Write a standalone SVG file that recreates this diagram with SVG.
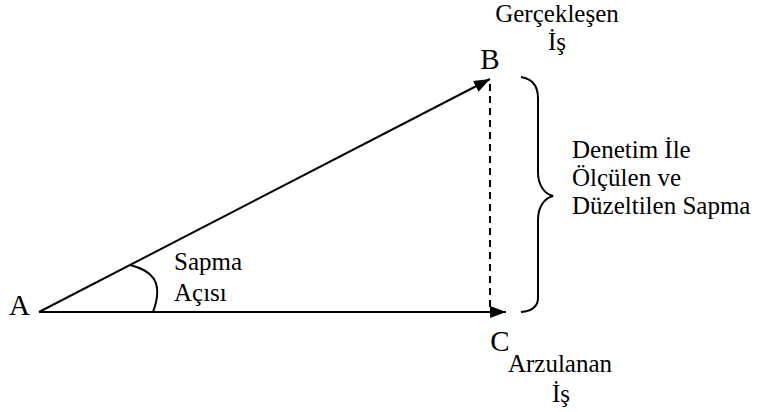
<svg xmlns="http://www.w3.org/2000/svg" width="760" height="412" viewBox="0 0 760 412">
<style>
.t{font-family:'Liberation Serif','Times New Roman','DejaVu Serif',serif;fill:#000;font-size:25px}
.pt{font-size:29px}
.ln{stroke:#000;stroke-width:2;fill:none}
</style>
<defs>
<marker id="ah" viewBox="0 0 16 12" refX="16" refY="6" markerWidth="16" markerHeight="12" markerUnits="userSpaceOnUse" orient="auto">
<path d="M0,0 L16,6 L0,12 Z" fill="#000"/>
</marker>
</defs>
<rect width="760" height="412" fill="#fff"/>
<g id="connectors">
<line class="ln" x1="39" y1="312" x2="506" y2="312" marker-end="url(#ah)"/>
<line class="ln" x1="39" y1="312" x2="490" y2="79" marker-end="url(#ah)"/>
<line class="ln" x1="490" y1="84" x2="490" y2="310" stroke-dasharray="7,5"/>
<path id="angle" class="ln" d="M130,265 C150,270 165,280 153,312"/>
<path id="brace" class="ln" d="M521,77 C533,79 538,86 538,98 L538,172 C538,186 545,194 553,196 C545,198 538,206 538,220 L538,298 C538,306 533,311 521,312"/>
</g>
<g class="t" font-family="Liberation Serif, Times New Roman, DejaVu Serif, serif">
<g id="nodeA"><text class="pt" x="9" y="315">A</text></g>
<g id="nodeB"><text class="pt" x="490" y="69" text-anchor="middle">B</text></g>
<g id="nodeC"><text class="pt" x="500" y="351" text-anchor="middle">C</text></g>
<g id="labelB"><text x="557" y="22" text-anchor="middle">Gerçekleşen</text><text x="557" y="50" text-anchor="middle">İş</text></g>
<g id="labelC"><text x="560" y="372" text-anchor="middle">Arzulanan</text><text x="561" y="402" text-anchor="middle">İş</text></g>
<g id="labelBrace"><text x="572" y="158">Denetim İle</text><text x="572" y="186">Ölçülen ve</text><text x="572" y="214">Düzeltilen Sapma</text></g>
<g id="labelAngle"><text x="174" y="270">Sapma</text><text x="174" y="301">Açısı</text></g>
</g>
</svg>
